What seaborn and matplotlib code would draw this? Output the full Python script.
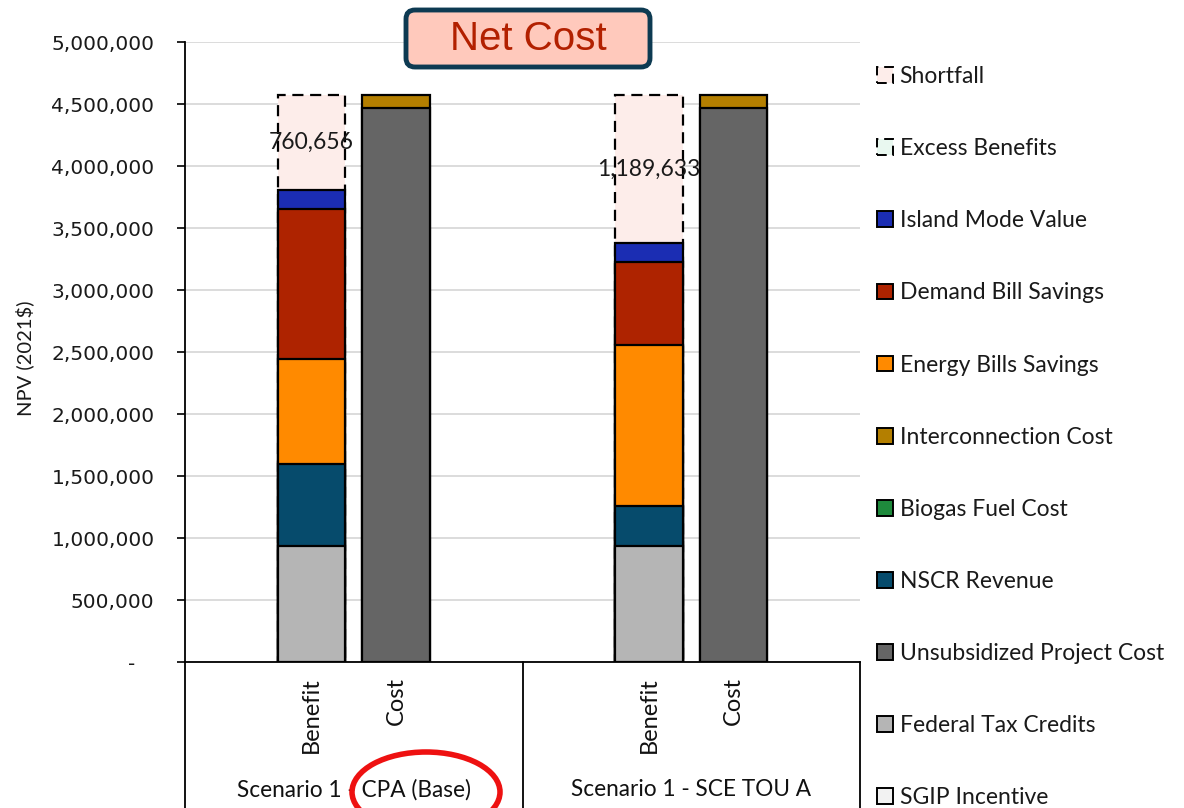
import numpy as np
import seaborn as sns
import matplotlib.pyplot as plt
from matplotlib.patches import Patch, FancyBboxPatch, Ellipse
from matplotlib.ticker import FuncFormatter

# ---- data -------------------------------------------------------------
scenarios = ["Scenario 1 - CPA (Base)", "Scenario 1 - SCE TOU A"]
bar_kinds = ["Benefit", "Cost"]

# benefit stack, bottom to top (one value per scenario)
sgip_incentive = [0, 0]
federal_tax_credits = [935000, 935000]
nscr_revenue = [662000, 323000]
energy_bill_savings = [847000, 1298000]
demand_bill_savings = [1209000, 670000]
island_mode_value = [156000, 155000]
excess_benefits = [0, 0]
shortfall = [760656, 1189633]

# cost stack, bottom to top
unsubsidized_project_cost = [4468000, 4468000]
biogas_fuel_cost = [0, 0]
interconnection_cost = [102000, 102000]

y_ticks = [0, 500000, 1000000, 1500000, 2000000, 2500000,
           3000000, 3500000, 4000000, 4500000, 5000000]

# ---- styles -----------------------------------------------------------
EDGE = dict(edgecolor="black", linewidth=1.6)
DASH = dict(edgecolor="black", linewidth=1.6, linestyle=(0, (5, 3)))
styles = {
    "Shortfall": dict(color="#FDEDEA", **DASH),
    "Excess Benefits": dict(color="#E9F8F0", **DASH),
    "Island Mode Value": dict(color="#1B2DB3", **EDGE),
    "Demand Bill Savings": dict(color="#AE2300", **EDGE),
    "Energy Bills Savings": dict(color="#FF8A00", **EDGE),
    "Interconnection Cost": dict(color="#B47F00", **EDGE),
    "Biogas Fuel Cost": dict(color="#1E8A3C", **EDGE),
    "NSCR Revenue": dict(color="#064B6C", **EDGE),
    "Unsubsidized Project Cost": dict(color="#656565", **EDGE),
    "Federal Tax Credits": dict(color="#B5B5B5", **EDGE),
    "SGIP Incentive": dict(color="#F2F2F2", **EDGE),
}

benefit_layers = [
    ("SGIP Incentive", sgip_incentive),
    ("Federal Tax Credits", federal_tax_credits),
    ("NSCR Revenue", nscr_revenue),
    ("Energy Bills Savings", energy_bill_savings),
    ("Demand Bill Savings", demand_bill_savings),
    ("Island Mode Value", island_mode_value),
    ("Excess Benefits", excess_benefits),
    ("Shortfall", shortfall),
]
cost_layers = [
    ("Unsubsidized Project Cost", unsubsidized_project_cost),
    ("Biogas Fuel Cost", biogas_fuel_cost),
    ("Interconnection Cost", interconnection_cost),
]

sns.set_theme(style="whitegrid")
plt.rcParams["font.family"] = ["Lato", "DejaVu Sans"]

fig = plt.figure(figsize=(11.84, 8.08), dpi=100)
ax = fig.add_axes([185 / 1184, 1 - 662 / 808, 675 / 1184, 620 / 808])

group_idx = np.arange(len(scenarios))
benefit_x = group_idx * 2 + 0.75
cost_x = group_idx * 2 + 1.25


def draw_stack(xs, layers):
    """Stacked bars drawn as cumulative totals, top layer first."""
    tops = np.cumsum([np.asarray(v, dtype=float) for _, v in layers], axis=0)
    for (name, vals), top in reversed(list(zip(layers, tops))):
        if not np.any(np.asarray(vals) > 0):
            continue
        sns.barplot(x=xs, y=top, native_scale=True, width=0.2,
                    saturation=1, errorbar=None, ax=ax, **styles[name])
    return tops


b_tops = draw_stack(benefit_x, benefit_layers)
draw_stack(cost_x, cost_layers)

# shortfall value labels
for x, top, v in zip(benefit_x, b_tops[-1], shortfall):
    ax.text(x, top - v / 2, f"{v:,}", ha="center", va="center",
            fontsize=16.5, color="#1a1a1a")

# ---- axes -------------------------------------------------------------
ax.set_xlim(0, 4)
ax.set_ylim(0, 5000000)
ax.set_yticks(y_ticks)
ax.yaxis.set_major_formatter(
    FuncFormatter(lambda v, p: "-   " if v == 0 else f"{v:,.0f}"))
ax.grid(axis="y", color="#D9D9D9", linewidth=1.3)
ax.grid(axis="x", visible=False)
ax.set_axisbelow(True)
for s in ["top", "right"]:
    ax.spines[s].set_visible(False)
for s in ["left", "bottom"]:
    ax.spines[s].set_color("black")
    ax.spines[s].set_linewidth(1.3)
ax.tick_params(axis="y", left=True, length=6, width=1.2, color="black",
               pad=16, labelsize=14.5, labelcolor="#1a1a1a")
for lab in ax.get_yticklabels():
    lab.set_family("DejaVu Sans")

all_x = np.concatenate([benefit_x, cost_x])
all_lab = [bar_kinds[0]] * len(benefit_x) + [bar_kinds[1]] * len(cost_x)
ax.set_xticks(all_x)
ax.set_xticklabels(all_lab, rotation=90, va="top", ha="center",
                   fontsize=17, color="#111111")
ax.tick_params(axis="x", length=0, pad=11)
ax.set_xlabel("")
ax.set_ylabel("")

# group separators and labels in the category table
for xb in [0, 2, 4]:
    ax.plot([xb, xb], [0, -0.3], transform=ax.get_xaxis_transform(),
            color="black", linewidth=1.3, clip_on=False)
for g, name in zip(group_idx, scenarios):
    ax.text(g * 2 + 1, -0.206, name, transform=ax.get_xaxis_transform(),
            ha="center", va="center", fontsize=16.3, color="#111111")

fig.text(25 / 1184, 1 - 358 / 808, "NPV (2021$)", rotation=90,
         ha="center", va="center", fontsize=14.5, color="#1a1a1a")

# title box
fig.patches.append(FancyBboxPatch(
    (4.06, 7.41), 2.44, 0.57, boxstyle="round,pad=0,rounding_size=0.09",
    transform=fig.dpi_scale_trans, facecolor="#FFC9BC",
    edgecolor="#0D3A52", linewidth=3.5))
fig.text(5.28, 7.69, "Net Cost", transform=fig.dpi_scale_trans,
         ha="center", va="center", fontsize=29, color="#B22000",
         family=["Liberation Sans", "DejaVu Sans"])

# highlight ellipse
fig.patches.append(Ellipse((4.26, 0.16), 1.48, 0.80,
                           transform=fig.dpi_scale_trans, fill=False,
                           edgecolor="#EE1111", linewidth=4))

# legend
legend_order = ["Shortfall", "Excess Benefits", "Island Mode Value",
                "Demand Bill Savings", "Energy Bills Savings",
                "Interconnection Cost", "Biogas Fuel Cost", "NSCR Revenue",
                "Unsubsidized Project Cost", "Federal Tax Credits",
                "SGIP Incentive"]
handles = []
for name in legend_order:
    st = styles[name]
    handles.append(Patch(facecolor=st["color"], edgecolor="black",
                         linewidth=1.4, linestyle=st.get("linestyle", "-"),
                         label=name))
fig.legend(handles=handles, loc="upper left",
           bbox_to_anchor=(868 / 1184, 1 - 57 / 808), frameon=False,
           fontsize=16.5, handlelength=0.68, handleheight=0.68,
           handletextpad=0.3, labelspacing=2.23, borderaxespad=0,
           labelcolor="#1a1a1a")

fig.savefig("out.png", dpi=100)
